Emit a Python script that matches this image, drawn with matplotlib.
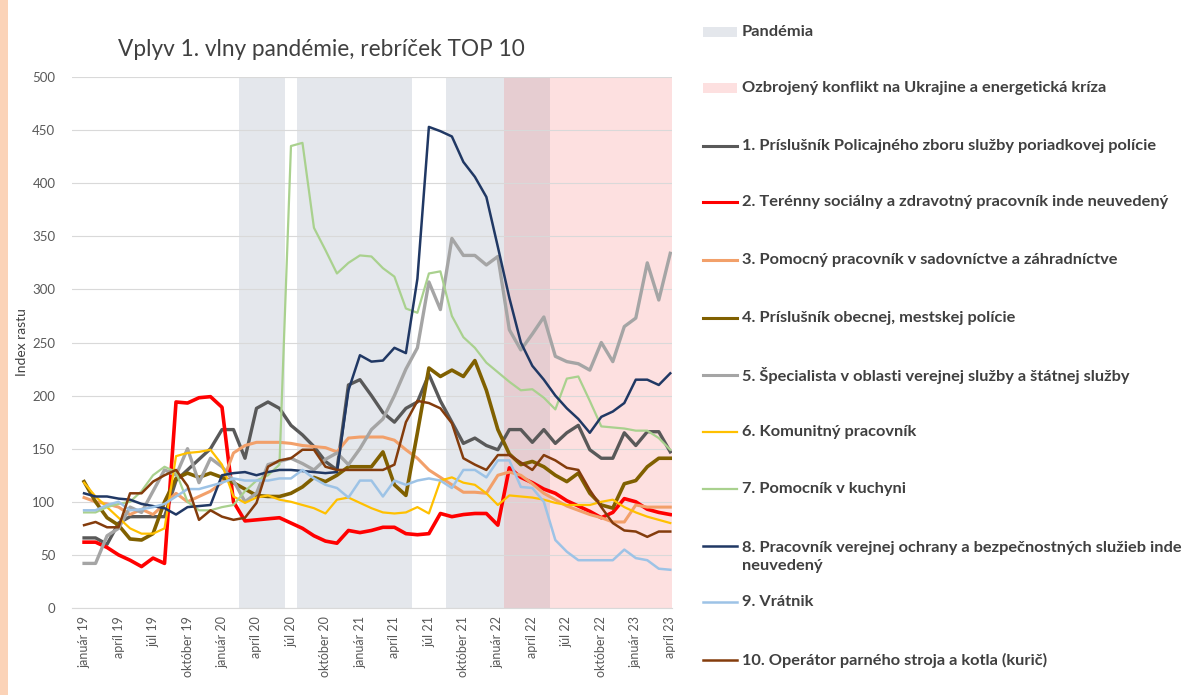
import matplotlib.pyplot as plt
from matplotlib.lines import Line2D
from matplotlib.patches import Rectangle

plt.rcParams['font.family'] = ['Lato', 'DejaVu Sans']

# months jan 2019 .. apr 2023
months = list(range(52))
tick_pos = list(range(0, 52, 3))
tick_labels = ['január 19', 'apríl 19', 'júl 19', 'október 19',
               'január 20', 'apríl 20', 'júl 20', 'október 20',
               'január 21', 'apríl 21', 'júl 21', 'október 21',
               'január 22', 'apríl 22', 'júl 22', 'október 22',
               'január 23', 'apríl 23']

# shaded periods (month index ranges, inclusive)
pandemic = [(14, 17), (19, 28), (32, 40)]
war = (37, 51)

s1 = [66, 66, 60, 80, 86, 86, 86, 86, 120, 130, 140, 150,
      168, 168, 141, 188, 194, 188, 172, 163, 152, 138, 130, 210,
      215, 200, 184, 175, 188, 194, 220, 195, 175, 155, 160, 153,
      149, 168, 168, 156, 168, 155, 165, 172, 149, 141, 141, 165,
      153, 166, 166, 147]
s2 = [62, 62, 57, 50, 45, 39, 47, 42, 194, 193, 198, 199,
      189, 100, 82, 83, 84, 85, 80, 75, 68, 63, 61, 73,
      71, 73, 76, 76, 70, 69, 70, 89, 86, 88, 89, 89,
      78, 132, 123, 118, 112, 108, 101, 96, 91, 85, 90, 103,
      100, 93, 90, 88]
s3 = [104, 100, 98, 95, 88, 93, 88, 98, 108, 100, 105, 110,
      118, 146, 153, 156, 156, 156, 155, 153, 152, 151, 147, 160,
      161, 161, 161, 158, 149, 141, 130, 123, 116, 109, 109, 108,
      125, 128, 125, 117, 108, 102, 96, 92, 88, 85, 81, 81,
      97, 95, 95, 95]
s4 = [119, 100, 85, 78, 65, 64, 70, 100, 122, 127, 123, 127,
      123, 118, 112, 106, 105, 105, 108, 114, 123, 119, 125, 133,
      133, 133, 147, 116, 106, 165, 226, 218, 224, 218, 233, 205,
      168, 145, 135, 138, 133, 125, 119, 127, 108, 97, 94, 117,
      120, 133, 141, 141]
s5 = [42, 42, 68, 75, 95, 90, 110, 130, 125, 150, 118, 141,
      133, 120, 100, 108, 135, 138, 141, 136, 130, 140, 146, 135,
      150, 168, 178, 200, 225, 245, 307, 281, 348, 332, 332, 323,
      331, 262, 243, 258, 274, 237, 232, 230, 224, 250, 232, 265,
      273, 325, 290, 334]
s6 = [118, 105, 95, 85, 75, 70, 70, 75, 143, 146, 147, 149,
      135, 105, 99, 104, 106, 102, 100, 97, 94, 89, 102, 104,
      99, 94, 90, 89, 90, 95, 89, 120, 123, 118, 116, 108,
      97, 106, 105, 104, 102, 99, 97, 97, 97, 100, 102, 95,
      90, 86, 83, 80]
s7 = [90, 90, 95, 98, 100, 110, 125, 133, 128, 100, 92, 92,
      95, 97, 110, 120, 125, 135, 435, 438, 358, 337, 315, 325,
      332, 331, 320, 312, 282, 278, 315, 317, 275, 255, 245, 231,
      222, 213, 205, 206, 198, 187, 216, 218, 195, 171, 170, 169,
      167, 167, 160, 149]
s8 = [108, 105, 105, 103, 102, 98, 96, 94, 88, 95, 96, 97,
      125, 127, 128, 125, 128, 130, 130, 129, 128, 127, 128, 205,
      238, 232, 233, 245, 240, 310, 453, 449, 444, 420, 406, 387,
      340, 292, 250, 228, 215, 200, 188, 178, 165, 180, 185, 193,
      215, 215, 210, 221]
s9 = [92, 92, 97, 100, 92, 93, 95, 98, 105, 112, 112, 115,
      118, 122, 120, 120, 120, 122, 122, 130, 122, 116, 113, 104,
      120, 120, 105, 120, 116, 120, 122, 120, 113, 130, 130, 123,
      139, 139, 114, 113, 100, 64, 53, 45, 45, 45, 45, 55,
      47, 45, 37, 36]
s10 = [78, 81, 76, 76, 108, 108, 119, 125, 130, 115, 83, 92,
       86, 83, 85, 99, 133, 139, 141, 149, 149, 133, 130, 130,
       130, 130, 130, 135, 175, 195, 193, 188, 174, 141, 135, 130,
       144, 144, 137, 130, 144, 139, 132, 130, 111, 95, 80, 73,
       72, 67, 72, 72]

series = [s1, s2, s3, s4, s5, s6, s7, s8, s9, s10]
names = ['1. Príslušník Policajného zboru služby poriadkovej polície',
         '2. Terénny sociálny a zdravotný pracovník inde neuvedený',
         '3. Pomocný pracovník v sadovníctve a záhradníctve',
         '4. Príslušník obecnej, mestskej polície',
         '5. Špecialista v oblasti verejnej služby a štátnej služby',
         '6. Komunitný pracovník',
         '7. Pomocník v kuchyni',
         '8. Pracovník verejnej ochrany a bezpečnostných služieb inde\nneuvedený',
         '9. Vrátnik',
         '10. Operátor parného stroja a kotla (kurič)']
colors = ['#595959', '#FF0000', '#F2A06A', '#806000', '#A5A5A5',
          '#FFC000', '#A9D18E', '#203864', '#9DC3E6', '#843C0C']
widths = [2.4, 2.6, 2.2, 2.6, 2.4, 1.6, 1.6, 1.8, 1.8, 1.8]

gray_c = '#E4E7EC'
pink_c = '#FDE0E0'
both_c = '#E6CDD1'

fig = plt.figure(figsize=(12.03, 6.95), dpi=100)
W, H = 1203, 695

# peach slide edge on the left
fig.add_artist(Rectangle((0, 0), 8 / W, 1, transform=fig.transFigure,
                         color='#FBD3B8', lw=0))

ax = fig.add_axes([72 / W, 87 / H, 600 / W, 531 / H])

# shaded periods
for a, b in pandemic:
    ax.axvspan(a - 0.5, b + 0.5, color=gray_c, lw=0, zorder=0)
ax.axvspan(war[0] - 0.5, war[1] + 0.6, color=pink_c, lw=0, zorder=0)
for a, b in pandemic:
    lo = max(a, war[0])
    hi = min(b, war[1])
    if lo <= hi:
        ax.axvspan(lo - 0.5, hi + 0.5, color=both_c, lw=0, zorder=0.5)

for s, c, w in zip(series, colors, widths):
    ax.plot(months, s, color=c, lw=w, solid_joinstyle='round', zorder=3)

ax.set_ylim(0, 500)
ax.set_xlim(-1.05, 51.15)
ax.set_yticks(range(0, 501, 50))
ax.grid(axis='y', color='#D9D9D9', lw=0.8, zorder=1)
ax.set_axisbelow(False)
for sp in ['top', 'right', 'left']:
    ax.spines[sp].set_visible(False)
ax.spines['bottom'].set_color('#D9D9D9')
ax.tick_params(axis='both', length=0, colors='#595959', labelsize=9.5)
ax.tick_params(axis='y', pad=12)
ax.set_xticks(tick_pos)
ax.set_xticklabels(tick_labels, rotation=90, fontsize=9, color='#595959')
ax.tick_params(axis='x', pad=6)
ax.set_ylabel('Index rastu', fontsize=10, color='#404040')
ax.yaxis.set_label_coords(-0.073, 0.5)

fig.text(118 / W, 1 - 50 / H, 'Vplyv 1. vlny pandémie, rebríček TOP 10',
         fontsize=16.3, color='#404040', va='center', ha='left')

# legend on the right
x0, x1, xt = 703 / W, 737 / W, 742 / W
fs = 11.8
leg_y = [88, 146, 202, 260, 318, 375, 432, 489, 557, 602, 660]
fig.add_artist(Rectangle((x0, 1 - 37 / H), x1 - x0, 10 / H,
                         transform=fig.transFigure, color=gray_c, lw=0))
fig.text(xt, 1 - 32 / H, 'Pandémia', fontsize=fs, fontweight='bold',
         color='#404040', va='center')
fig.add_artist(Rectangle((x0, 1 - 93 / H), x1 - x0, 10 / H,
                         transform=fig.transFigure, color=pink_c, lw=0))
fig.text(xt, 1 - 88 / H, 'Ozbrojený konflikt na Ukrajine a energetická kríza',
         fontsize=fs, fontweight='bold', color='#404040', va='center')
for k in range(10):
    yl = leg_y[k + 1]
    yline = 546 if k == 7 else yl
    fig.add_artist(Line2D([x0, x1], [1 - yline / H, 1 - yline / H],
                          transform=fig.transFigure, color=colors[k],
                          lw=min(widths[k], 2.2)))
    fig.text(xt, 1 - yl / H, names[k], fontsize=fs, fontweight='bold',
             color='#404040', va='center', linespacing=1.3)

fig.savefig('out.png', dpi=100, facecolor='white')
